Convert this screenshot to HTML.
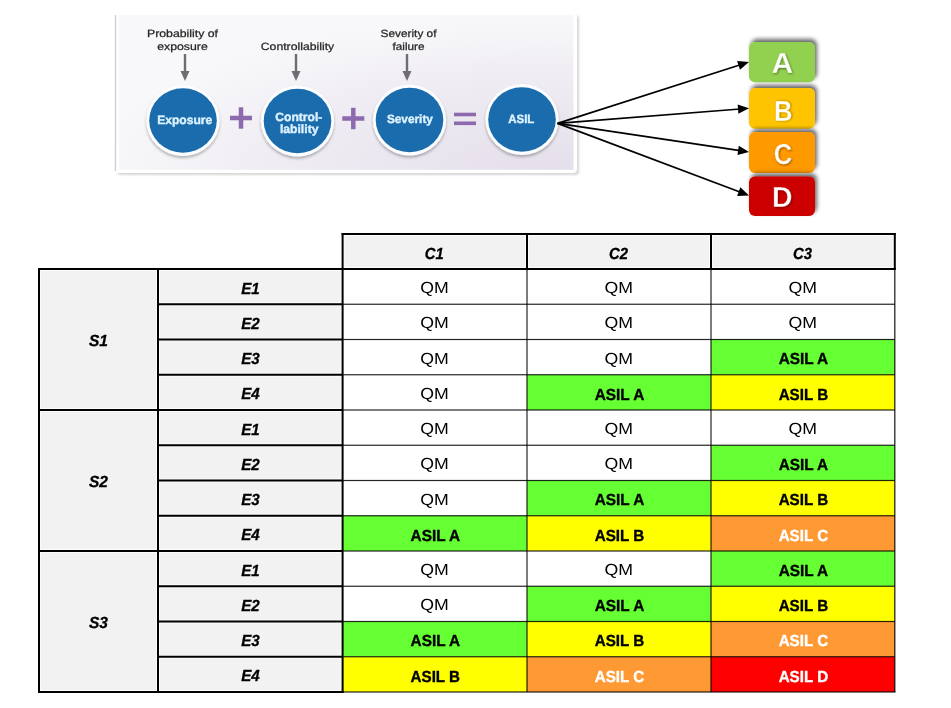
<!DOCTYPE html><html><head><meta charset="utf-8"><style>svg text{text-rendering:geometricPrecision}html,body{margin:0;padding:0;background:#fff;width:951px;height:708px;overflow:hidden;position:relative}</style></head><body><svg width="951" height="708" viewBox="0 0 951 708" style="position:absolute;left:0;top:0;will-change:transform">
<defs>
<radialGradient id="bg" cx="0.95" cy="1" r="1" fx="0.95" fy="1"><stop offset="0" stop-color="#e5dfeb"/><stop offset="0.55" stop-color="#eeebf2"/><stop offset="1" stop-color="#f8f8fa"/></radialGradient>
<filter id="sh" x="-10%" y="-10%" width="120%" height="130%"><feGaussianBlur in="SourceAlpha" stdDeviation="1.2"/><feOffset dx="0.5" dy="1.5"/><feComponentTransfer><feFuncA type="linear" slope="0.35"/></feComponentTransfer><feMerge><feMergeNode/><feMergeNode in="SourceGraphic"/></feMerge></filter>
<filter id="csh" x="-20%" y="-20%" width="140%" height="140%"><feGaussianBlur in="SourceAlpha" stdDeviation="1.5"/><feOffset dx="0" dy="1.5"/><feComponentTransfer><feFuncA type="linear" slope="0.3"/></feComponentTransfer><feMerge><feMergeNode/><feMergeNode in="SourceGraphic"/></feMerge></filter>
<filter id="bsh" x="-20%" y="-30%" width="140%" height="160%"><feGaussianBlur in="SourceAlpha" stdDeviation="2"/><feOffset dx="2" dy="-3"/><feComponentTransfer><feFuncA type="linear" slope="0.6"/></feComponentTransfer><feMerge><feMergeNode/><feMergeNode in="SourceGraphic"/></feMerge></filter>
<filter id="tsh"><feGaussianBlur in="SourceAlpha" stdDeviation="0.6"/><feOffset dx="0.8" dy="0.8"/><feComponentTransfer><feFuncA type="linear" slope="0.5"/></feComponentTransfer><feMerge><feMergeNode/><feMergeNode in="SourceGraphic"/></feMerge></filter>
<filter id="blur1" x="-5%" y="-10%" width="110%" height="120%"><feGaussianBlur stdDeviation="1"/></filter>
<marker id="ah" viewBox="0 0 10 10" refX="10" refY="5" markerWidth="7" markerHeight="7" orient="auto" markerUnits="userSpaceOnUse"><path d="M0,0 L10,5 L0,10 z" fill="#000"/></marker>
</defs>
<rect x="117" y="15" width="462" height="160" rx="4" fill="#000" opacity="0.16" filter="url(#blur1)"/>
<rect x="115" y="12" width="462" height="161" rx="4" fill="#ffffff"/>
<rect x="114.8" y="15" width="1.4" height="156" fill="#cfcfd2"/>
<rect x="119" y="15" width="454.5" height="154.8" fill="url(#bg)"/>
<text x="182.5" y="37" font-family="Liberation Sans, sans-serif" font-size="10.5" font-weight="normal" font-style="normal" fill="#262626" text-anchor="middle" textLength="71" lengthAdjust="spacingAndGlyphs" stroke="#262626" stroke-width="0.25">Probability of</text>
<text x="182.5" y="49.5" font-family="Liberation Sans, sans-serif" font-size="10.5" font-weight="normal" font-style="normal" fill="#262626" text-anchor="middle" textLength="50.5" lengthAdjust="spacingAndGlyphs" stroke="#262626" stroke-width="0.25">exposure</text>
<text x="297.5" y="50" font-family="Liberation Sans, sans-serif" font-size="10.5" font-weight="normal" font-style="normal" fill="#262626" text-anchor="middle" textLength="73.5" lengthAdjust="spacingAndGlyphs" stroke="#262626" stroke-width="0.25">Controllability</text>
<text x="408.5" y="37" font-family="Liberation Sans, sans-serif" font-size="10.5" font-weight="normal" font-style="normal" fill="#262626" text-anchor="middle" textLength="56" lengthAdjust="spacingAndGlyphs" stroke="#262626" stroke-width="0.25">Severity of</text>
<text x="408.5" y="50" font-family="Liberation Sans, sans-serif" font-size="10.5" font-weight="normal" font-style="normal" fill="#262626" text-anchor="middle" textLength="32" lengthAdjust="spacingAndGlyphs" stroke="#262626" stroke-width="0.25">failure</text>
<rect x="183.8" y="54" width="2.4" height="19" fill="#6e6e72"/>
<path d="M180.5,71 L189.5,71 L185,81 z" fill="#6e6e72"/>
<rect x="294.8" y="54" width="2.4" height="19" fill="#6e6e72"/>
<path d="M291.5,71 L300.5,71 L296,81 z" fill="#6e6e72"/>
<rect x="405.8" y="54" width="2.4" height="19" fill="#6e6e72"/>
<path d="M402.5,71 L411.5,71 L407,81 z" fill="#6e6e72"/>
<g filter="url(#csh)"><ellipse cx="183" cy="120.5" rx="36.6" ry="35.5" fill="#fbfdff"/></g>
<ellipse cx="183" cy="120.5" rx="33.8" ry="32.3" fill="#1a6cad"/>
<g filter="url(#csh)"><ellipse cx="297.5" cy="121" rx="36.6" ry="35.5" fill="#fbfdff"/></g>
<ellipse cx="297.5" cy="121" rx="33.8" ry="32.3" fill="#1a6cad"/>
<g filter="url(#csh)"><ellipse cx="409.5" cy="120" rx="36.6" ry="35.5" fill="#fbfdff"/></g>
<ellipse cx="409.5" cy="120" rx="33.8" ry="32.3" fill="#1a6cad"/>
<g filter="url(#csh)"><ellipse cx="522" cy="119.5" rx="36.6" ry="35.5" fill="#fbfdff"/></g>
<ellipse cx="522" cy="119.5" rx="33.8" ry="32.3" fill="#1a6cad"/>
<text x="184.7" y="123.6" font-family="Liberation Sans, sans-serif" font-size="12" font-weight="bold" font-style="normal" fill="#dcf1ff" text-anchor="middle" textLength="55" lengthAdjust="spacingAndGlyphs" stroke="#dcf1ff" stroke-width="0.4">Exposure</text>
<text x="298.8" y="120.6" font-family="Liberation Sans, sans-serif" font-size="12" font-weight="bold" font-style="normal" fill="#dcf1ff" text-anchor="middle" textLength="47" lengthAdjust="spacingAndGlyphs" stroke="#dcf1ff" stroke-width="0.4">Control-</text>
<text x="299.2" y="132.6" font-family="Liberation Sans, sans-serif" font-size="12" font-weight="bold" font-style="normal" fill="#dcf1ff" text-anchor="middle" textLength="38.5" lengthAdjust="spacingAndGlyphs" stroke="#dcf1ff" stroke-width="0.4">lability</text>
<text x="409.9" y="123.4" font-family="Liberation Sans, sans-serif" font-size="12" font-weight="bold" font-style="normal" fill="#dcf1ff" text-anchor="middle" textLength="46" lengthAdjust="spacingAndGlyphs" stroke="#dcf1ff" stroke-width="0.4">Severity</text>
<text x="521.3" y="122.9" font-family="Liberation Sans, sans-serif" font-size="12" font-weight="bold" font-style="normal" fill="#dcf1ff" text-anchor="middle" textLength="26" lengthAdjust="spacingAndGlyphs" stroke="#dcf1ff" stroke-width="0.4">ASIL</text>
<rect x="230" y="115.75" width="22" height="4.5" fill="#8d6aae"/>
<rect x="238.75" y="107.3" width="4.5" height="21.4" fill="#8d6aae"/>
<rect x="342.3" y="116.25" width="22" height="4.5" fill="#8d6aae"/>
<rect x="351.05" y="107.8" width="4.5" height="21.4" fill="#8d6aae"/>
<rect x="454" y="112.7" width="22" height="3.6" fill="#8d6aae"/>
<rect x="454" y="121.5" width="22" height="3.6" fill="#8d6aae"/>
<g filter="url(#bsh)"><rect x="749" y="42" width="66" height="40.3" rx="6" fill="#92d050"/></g>
<g filter="url(#bsh)"><rect x="749" y="88" width="66" height="40.69999999999999" rx="6" fill="#ffc406"/></g>
<g filter="url(#bsh)"><rect x="749" y="132" width="66" height="41" rx="6" fill="#ff9900"/></g>
<g filter="url(#bsh)"><rect x="749" y="176.5" width="66" height="39.5" rx="6" fill="#cc0000"/></g>
<g filter="url(#blur1)" opacity="0.45"><text x="783.0999999999999" y="74.1" font-family="Liberation Sans, sans-serif" font-size="29" font-weight="bold" font-style="normal" fill="#000" text-anchor="middle" textLength="21.7" lengthAdjust="spacingAndGlyphs" >A</text></g>
<text x="782.3" y="73.3" font-family="Liberation Sans, sans-serif" font-size="29" font-weight="bold" font-style="normal" fill="#fff" text-anchor="middle" textLength="21.7" lengthAdjust="spacingAndGlyphs" stroke="#92d050" stroke-width="0.4">A</text>
<g filter="url(#blur1)" opacity="0.45"><text x="784.0999999999999" y="121.39999999999999" font-family="Liberation Sans, sans-serif" font-size="29" font-weight="bold" font-style="normal" fill="#000" text-anchor="middle" textLength="18.5" lengthAdjust="spacingAndGlyphs" >B</text></g>
<text x="783.3" y="120.6" font-family="Liberation Sans, sans-serif" font-size="29" font-weight="bold" font-style="normal" fill="#fff" text-anchor="middle" textLength="18.5" lengthAdjust="spacingAndGlyphs" stroke="#ffc406" stroke-width="0.4">B</text>
<g filter="url(#blur1)" opacity="0.45"><text x="783.6999999999999" y="164.60000000000002" font-family="Liberation Sans, sans-serif" font-size="29" font-weight="bold" font-style="normal" fill="#000" text-anchor="middle" textLength="18.5" lengthAdjust="spacingAndGlyphs" >C</text></g>
<text x="782.9" y="163.8" font-family="Liberation Sans, sans-serif" font-size="29" font-weight="bold" font-style="normal" fill="#fff" text-anchor="middle" textLength="18.5" lengthAdjust="spacingAndGlyphs" stroke="#ff9900" stroke-width="0.4">C</text>
<g filter="url(#blur1)" opacity="0.45"><text x="783.0999999999999" y="207.8" font-family="Liberation Sans, sans-serif" font-size="29" font-weight="bold" font-style="normal" fill="#000" text-anchor="middle" textLength="20.5" lengthAdjust="spacingAndGlyphs" >D</text></g>
<text x="782.3" y="207" font-family="Liberation Sans, sans-serif" font-size="29" font-weight="bold" font-style="normal" fill="#fff" text-anchor="middle" textLength="20.5" lengthAdjust="spacingAndGlyphs" stroke="#cc0000" stroke-width="0.4">D</text>
<line x1="557.6" y1="123.4" x2="740.4301604351302" y2="64.74915438496868" stroke="#000" stroke-width="1.7"/>
<path d="M749,62 L739.9614211550872,69.83543824328261 L737.0900821307866,60.88471691997417 z" fill="#000"/>
<line x1="557.6" y1="123.4" x2="740.0278779614463" y2="109.00783198945747" stroke="#000" stroke-width="1.7"/>
<path d="M749,108.3 L738.4037186584844,113.85056949613717 L737.6644274694954,104.4796864780922 z" fill="#000"/>
<line x1="557.6" y1="123.4" x2="740.0988237728415" y2="150.66993918444757" stroke="#000" stroke-width="1.7"/>
<path d="M749,152 L737.4261972964622,155.02276214406317 L738.8153719260391,145.72597808458647 z" fill="#000"/>
<line x1="557.6" y1="123.4" x2="740.5777484626931" y2="192.32735456719" stroke="#000" stroke-width="1.7"/>
<path d="M749,195.5 L737.049311061713,196.02060916271478 L740.3629629582034,187.2240353348608 z" fill="#000"/>
<rect x="342.6" y="234" width="552.1999999999999" height="35" fill="#f2f2f2"/>
<rect x="39" y="269" width="303.6" height="423" fill="#f2f2f2"/>
<rect x="342.6" y="269.0" width="184.39999999999998" height="35.25" fill="#ffffff"/>
<rect x="527" y="269.0" width="184" height="35.25" fill="#ffffff"/>
<rect x="711" y="269.0" width="183.79999999999995" height="35.25" fill="#ffffff"/>
<rect x="342.6" y="304.25" width="184.39999999999998" height="35.25" fill="#ffffff"/>
<rect x="527" y="304.25" width="184" height="35.25" fill="#ffffff"/>
<rect x="711" y="304.25" width="183.79999999999995" height="35.25" fill="#ffffff"/>
<rect x="342.6" y="339.5" width="184.39999999999998" height="35.25" fill="#ffffff"/>
<rect x="527" y="339.5" width="184" height="35.25" fill="#ffffff"/>
<rect x="711" y="339.5" width="183.79999999999995" height="35.25" fill="#66ff33"/>
<rect x="342.6" y="374.75" width="184.39999999999998" height="35.25" fill="#ffffff"/>
<rect x="527" y="374.75" width="184" height="35.25" fill="#66ff33"/>
<rect x="711" y="374.75" width="183.79999999999995" height="35.25" fill="#ffff00"/>
<rect x="342.6" y="410.0" width="184.39999999999998" height="35.25" fill="#ffffff"/>
<rect x="527" y="410.0" width="184" height="35.25" fill="#ffffff"/>
<rect x="711" y="410.0" width="183.79999999999995" height="35.25" fill="#ffffff"/>
<rect x="342.6" y="445.25" width="184.39999999999998" height="35.25" fill="#ffffff"/>
<rect x="527" y="445.25" width="184" height="35.25" fill="#ffffff"/>
<rect x="711" y="445.25" width="183.79999999999995" height="35.25" fill="#66ff33"/>
<rect x="342.6" y="480.5" width="184.39999999999998" height="35.25" fill="#ffffff"/>
<rect x="527" y="480.5" width="184" height="35.25" fill="#66ff33"/>
<rect x="711" y="480.5" width="183.79999999999995" height="35.25" fill="#ffff00"/>
<rect x="342.6" y="515.75" width="184.39999999999998" height="35.25" fill="#66ff33"/>
<rect x="527" y="515.75" width="184" height="35.25" fill="#ffff00"/>
<rect x="711" y="515.75" width="183.79999999999995" height="35.25" fill="#ff9933"/>
<rect x="342.6" y="551.0" width="184.39999999999998" height="35.25" fill="#ffffff"/>
<rect x="527" y="551.0" width="184" height="35.25" fill="#ffffff"/>
<rect x="711" y="551.0" width="183.79999999999995" height="35.25" fill="#66ff33"/>
<rect x="342.6" y="586.25" width="184.39999999999998" height="35.25" fill="#ffffff"/>
<rect x="527" y="586.25" width="184" height="35.25" fill="#66ff33"/>
<rect x="711" y="586.25" width="183.79999999999995" height="35.25" fill="#ffff00"/>
<rect x="342.6" y="621.5" width="184.39999999999998" height="35.25" fill="#66ff33"/>
<rect x="527" y="621.5" width="184" height="35.25" fill="#ffff00"/>
<rect x="711" y="621.5" width="183.79999999999995" height="35.25" fill="#ff9933"/>
<rect x="342.6" y="656.75" width="184.39999999999998" height="35.25" fill="#ffff00"/>
<rect x="527" y="656.75" width="184" height="35.25" fill="#ff9933"/>
<rect x="711" y="656.75" width="183.79999999999995" height="35.25" fill="#ff0000"/>
<rect x="344.1" y="235.5" width="181.39999999999998" height="32" fill="none" stroke="#fff" stroke-opacity="0.75" stroke-width="1"/>
<rect x="528.5" y="235.5" width="181" height="32" fill="none" stroke="#fff" stroke-opacity="0.75" stroke-width="1"/>
<rect x="712.5" y="235.5" width="180.79999999999995" height="32" fill="none" stroke="#fff" stroke-opacity="0.75" stroke-width="1"/>
<rect x="40.5" y="270.5" width="116" height="138.0" fill="none" stroke="#fff" stroke-opacity="0.75" stroke-width="1"/>
<rect x="40.5" y="411.5" width="116" height="138.0" fill="none" stroke="#fff" stroke-opacity="0.75" stroke-width="1"/>
<rect x="40.5" y="552.5" width="116" height="138.0" fill="none" stroke="#fff" stroke-opacity="0.75" stroke-width="1"/>
<rect x="159.5" y="270.5" width="181.60000000000002" height="32.25" fill="none" stroke="#fff" stroke-opacity="0.75" stroke-width="1"/>
<rect x="159.5" y="305.75" width="181.60000000000002" height="32.25" fill="none" stroke="#fff" stroke-opacity="0.75" stroke-width="1"/>
<rect x="159.5" y="341.0" width="181.60000000000002" height="32.25" fill="none" stroke="#fff" stroke-opacity="0.75" stroke-width="1"/>
<rect x="159.5" y="376.25" width="181.60000000000002" height="32.25" fill="none" stroke="#fff" stroke-opacity="0.75" stroke-width="1"/>
<rect x="159.5" y="411.5" width="181.60000000000002" height="32.25" fill="none" stroke="#fff" stroke-opacity="0.75" stroke-width="1"/>
<rect x="159.5" y="446.75" width="181.60000000000002" height="32.25" fill="none" stroke="#fff" stroke-opacity="0.75" stroke-width="1"/>
<rect x="159.5" y="482.0" width="181.60000000000002" height="32.25" fill="none" stroke="#fff" stroke-opacity="0.75" stroke-width="1"/>
<rect x="159.5" y="517.25" width="181.60000000000002" height="32.25" fill="none" stroke="#fff" stroke-opacity="0.75" stroke-width="1"/>
<rect x="159.5" y="552.5" width="181.60000000000002" height="32.25" fill="none" stroke="#fff" stroke-opacity="0.75" stroke-width="1"/>
<rect x="159.5" y="587.75" width="181.60000000000002" height="32.25" fill="none" stroke="#fff" stroke-opacity="0.75" stroke-width="1"/>
<rect x="159.5" y="623.0" width="181.60000000000002" height="32.25" fill="none" stroke="#fff" stroke-opacity="0.75" stroke-width="1"/>
<rect x="159.5" y="658.25" width="181.60000000000002" height="32.25" fill="none" stroke="#fff" stroke-opacity="0.75" stroke-width="1"/>
<text x="434.3" y="258.5" font-family="Liberation Sans, sans-serif" font-size="16" font-weight="bold" font-style="italic" fill="#000" text-anchor="middle" textLength="19" lengthAdjust="spacingAndGlyphs" stroke="#000" stroke-width="0.3">C1</text>
<text x="618.5" y="258.5" font-family="Liberation Sans, sans-serif" font-size="16" font-weight="bold" font-style="italic" fill="#000" text-anchor="middle" textLength="19" lengthAdjust="spacingAndGlyphs" stroke="#000" stroke-width="0.3">C2</text>
<text x="802.4" y="258.5" font-family="Liberation Sans, sans-serif" font-size="16" font-weight="bold" font-style="italic" fill="#000" text-anchor="middle" textLength="19" lengthAdjust="spacingAndGlyphs" stroke="#000" stroke-width="0.3">C3</text>
<text x="250.5" y="293.525" font-family="Liberation Sans, sans-serif" font-size="16" font-weight="bold" font-style="italic" fill="#000" text-anchor="middle" textLength="18.5" lengthAdjust="spacingAndGlyphs" stroke="#000" stroke-width="0.3">E1</text>
<text x="434.6" y="293.225" font-family="Liberation Sans, sans-serif" font-size="16" font-weight="normal" font-style="normal" fill="#000" text-anchor="middle" textLength="28.5" lengthAdjust="spacingAndGlyphs" >QM</text>
<text x="618.8" y="293.225" font-family="Liberation Sans, sans-serif" font-size="16" font-weight="normal" font-style="normal" fill="#000" text-anchor="middle" textLength="28.5" lengthAdjust="spacingAndGlyphs" >QM</text>
<text x="802.6999999999999" y="293.225" font-family="Liberation Sans, sans-serif" font-size="16" font-weight="normal" font-style="normal" fill="#000" text-anchor="middle" textLength="28.5" lengthAdjust="spacingAndGlyphs" >QM</text>
<text x="250.5" y="328.775" font-family="Liberation Sans, sans-serif" font-size="16" font-weight="bold" font-style="italic" fill="#000" text-anchor="middle" textLength="18.5" lengthAdjust="spacingAndGlyphs" stroke="#000" stroke-width="0.3">E2</text>
<text x="434.6" y="328.475" font-family="Liberation Sans, sans-serif" font-size="16" font-weight="normal" font-style="normal" fill="#000" text-anchor="middle" textLength="28.5" lengthAdjust="spacingAndGlyphs" >QM</text>
<text x="618.8" y="328.475" font-family="Liberation Sans, sans-serif" font-size="16" font-weight="normal" font-style="normal" fill="#000" text-anchor="middle" textLength="28.5" lengthAdjust="spacingAndGlyphs" >QM</text>
<text x="802.6999999999999" y="328.475" font-family="Liberation Sans, sans-serif" font-size="16" font-weight="normal" font-style="normal" fill="#000" text-anchor="middle" textLength="28.5" lengthAdjust="spacingAndGlyphs" >QM</text>
<text x="250.5" y="364.025" font-family="Liberation Sans, sans-serif" font-size="16" font-weight="bold" font-style="italic" fill="#000" text-anchor="middle" textLength="18.5" lengthAdjust="spacingAndGlyphs" stroke="#000" stroke-width="0.3">E3</text>
<text x="434.6" y="363.725" font-family="Liberation Sans, sans-serif" font-size="16" font-weight="normal" font-style="normal" fill="#000" text-anchor="middle" textLength="28.5" lengthAdjust="spacingAndGlyphs" >QM</text>
<text x="618.8" y="363.725" font-family="Liberation Sans, sans-serif" font-size="16" font-weight="normal" font-style="normal" fill="#000" text-anchor="middle" textLength="28.5" lengthAdjust="spacingAndGlyphs" >QM</text>
<text x="803.4" y="364.425" font-family="Liberation Sans, sans-serif" font-size="16" font-weight="bold" font-style="normal" fill="#000" text-anchor="middle" textLength="49.5" lengthAdjust="spacingAndGlyphs" stroke="#000" stroke-width="0.35">ASIL A</text>
<text x="250.5" y="399.275" font-family="Liberation Sans, sans-serif" font-size="16" font-weight="bold" font-style="italic" fill="#000" text-anchor="middle" textLength="18.5" lengthAdjust="spacingAndGlyphs" stroke="#000" stroke-width="0.3">E4</text>
<text x="434.6" y="398.975" font-family="Liberation Sans, sans-serif" font-size="16" font-weight="normal" font-style="normal" fill="#000" text-anchor="middle" textLength="28.5" lengthAdjust="spacingAndGlyphs" >QM</text>
<text x="619.5" y="399.675" font-family="Liberation Sans, sans-serif" font-size="16" font-weight="bold" font-style="normal" fill="#000" text-anchor="middle" textLength="49.5" lengthAdjust="spacingAndGlyphs" stroke="#000" stroke-width="0.35">ASIL A</text>
<text x="803.4" y="399.675" font-family="Liberation Sans, sans-serif" font-size="16" font-weight="bold" font-style="normal" fill="#000" text-anchor="middle" textLength="49.5" lengthAdjust="spacingAndGlyphs" stroke="#000" stroke-width="0.35">ASIL B</text>
<text x="250.5" y="434.525" font-family="Liberation Sans, sans-serif" font-size="16" font-weight="bold" font-style="italic" fill="#000" text-anchor="middle" textLength="18.5" lengthAdjust="spacingAndGlyphs" stroke="#000" stroke-width="0.3">E1</text>
<text x="434.6" y="434.225" font-family="Liberation Sans, sans-serif" font-size="16" font-weight="normal" font-style="normal" fill="#000" text-anchor="middle" textLength="28.5" lengthAdjust="spacingAndGlyphs" >QM</text>
<text x="618.8" y="434.225" font-family="Liberation Sans, sans-serif" font-size="16" font-weight="normal" font-style="normal" fill="#000" text-anchor="middle" textLength="28.5" lengthAdjust="spacingAndGlyphs" >QM</text>
<text x="802.6999999999999" y="434.225" font-family="Liberation Sans, sans-serif" font-size="16" font-weight="normal" font-style="normal" fill="#000" text-anchor="middle" textLength="28.5" lengthAdjust="spacingAndGlyphs" >QM</text>
<text x="250.5" y="469.775" font-family="Liberation Sans, sans-serif" font-size="16" font-weight="bold" font-style="italic" fill="#000" text-anchor="middle" textLength="18.5" lengthAdjust="spacingAndGlyphs" stroke="#000" stroke-width="0.3">E2</text>
<text x="434.6" y="469.475" font-family="Liberation Sans, sans-serif" font-size="16" font-weight="normal" font-style="normal" fill="#000" text-anchor="middle" textLength="28.5" lengthAdjust="spacingAndGlyphs" >QM</text>
<text x="618.8" y="469.475" font-family="Liberation Sans, sans-serif" font-size="16" font-weight="normal" font-style="normal" fill="#000" text-anchor="middle" textLength="28.5" lengthAdjust="spacingAndGlyphs" >QM</text>
<text x="803.4" y="470.175" font-family="Liberation Sans, sans-serif" font-size="16" font-weight="bold" font-style="normal" fill="#000" text-anchor="middle" textLength="49.5" lengthAdjust="spacingAndGlyphs" stroke="#000" stroke-width="0.35">ASIL A</text>
<text x="250.5" y="505.025" font-family="Liberation Sans, sans-serif" font-size="16" font-weight="bold" font-style="italic" fill="#000" text-anchor="middle" textLength="18.5" lengthAdjust="spacingAndGlyphs" stroke="#000" stroke-width="0.3">E3</text>
<text x="434.6" y="504.725" font-family="Liberation Sans, sans-serif" font-size="16" font-weight="normal" font-style="normal" fill="#000" text-anchor="middle" textLength="28.5" lengthAdjust="spacingAndGlyphs" >QM</text>
<text x="619.5" y="505.425" font-family="Liberation Sans, sans-serif" font-size="16" font-weight="bold" font-style="normal" fill="#000" text-anchor="middle" textLength="49.5" lengthAdjust="spacingAndGlyphs" stroke="#000" stroke-width="0.35">ASIL A</text>
<text x="803.4" y="505.425" font-family="Liberation Sans, sans-serif" font-size="16" font-weight="bold" font-style="normal" fill="#000" text-anchor="middle" textLength="49.5" lengthAdjust="spacingAndGlyphs" stroke="#000" stroke-width="0.35">ASIL B</text>
<text x="250.5" y="540.275" font-family="Liberation Sans, sans-serif" font-size="16" font-weight="bold" font-style="italic" fill="#000" text-anchor="middle" textLength="18.5" lengthAdjust="spacingAndGlyphs" stroke="#000" stroke-width="0.3">E4</text>
<text x="435.3" y="540.675" font-family="Liberation Sans, sans-serif" font-size="16" font-weight="bold" font-style="normal" fill="#000" text-anchor="middle" textLength="49.5" lengthAdjust="spacingAndGlyphs" stroke="#000" stroke-width="0.35">ASIL A</text>
<text x="619.5" y="540.675" font-family="Liberation Sans, sans-serif" font-size="16" font-weight="bold" font-style="normal" fill="#000" text-anchor="middle" textLength="49.5" lengthAdjust="spacingAndGlyphs" stroke="#000" stroke-width="0.35">ASIL B</text>
<text x="803.4" y="540.675" font-family="Liberation Sans, sans-serif" font-size="16" font-weight="bold" font-style="normal" fill="#fff" text-anchor="middle" textLength="49.5" lengthAdjust="spacingAndGlyphs" stroke="#fff" stroke-width="0.35">ASIL C</text>
<text x="250.5" y="575.525" font-family="Liberation Sans, sans-serif" font-size="16" font-weight="bold" font-style="italic" fill="#000" text-anchor="middle" textLength="18.5" lengthAdjust="spacingAndGlyphs" stroke="#000" stroke-width="0.3">E1</text>
<text x="434.6" y="575.225" font-family="Liberation Sans, sans-serif" font-size="16" font-weight="normal" font-style="normal" fill="#000" text-anchor="middle" textLength="28.5" lengthAdjust="spacingAndGlyphs" >QM</text>
<text x="618.8" y="575.225" font-family="Liberation Sans, sans-serif" font-size="16" font-weight="normal" font-style="normal" fill="#000" text-anchor="middle" textLength="28.5" lengthAdjust="spacingAndGlyphs" >QM</text>
<text x="803.4" y="575.925" font-family="Liberation Sans, sans-serif" font-size="16" font-weight="bold" font-style="normal" fill="#000" text-anchor="middle" textLength="49.5" lengthAdjust="spacingAndGlyphs" stroke="#000" stroke-width="0.35">ASIL A</text>
<text x="250.5" y="610.775" font-family="Liberation Sans, sans-serif" font-size="16" font-weight="bold" font-style="italic" fill="#000" text-anchor="middle" textLength="18.5" lengthAdjust="spacingAndGlyphs" stroke="#000" stroke-width="0.3">E2</text>
<text x="434.6" y="610.475" font-family="Liberation Sans, sans-serif" font-size="16" font-weight="normal" font-style="normal" fill="#000" text-anchor="middle" textLength="28.5" lengthAdjust="spacingAndGlyphs" >QM</text>
<text x="619.5" y="611.175" font-family="Liberation Sans, sans-serif" font-size="16" font-weight="bold" font-style="normal" fill="#000" text-anchor="middle" textLength="49.5" lengthAdjust="spacingAndGlyphs" stroke="#000" stroke-width="0.35">ASIL A</text>
<text x="803.4" y="611.175" font-family="Liberation Sans, sans-serif" font-size="16" font-weight="bold" font-style="normal" fill="#000" text-anchor="middle" textLength="49.5" lengthAdjust="spacingAndGlyphs" stroke="#000" stroke-width="0.35">ASIL B</text>
<text x="250.5" y="646.025" font-family="Liberation Sans, sans-serif" font-size="16" font-weight="bold" font-style="italic" fill="#000" text-anchor="middle" textLength="18.5" lengthAdjust="spacingAndGlyphs" stroke="#000" stroke-width="0.3">E3</text>
<text x="435.3" y="646.425" font-family="Liberation Sans, sans-serif" font-size="16" font-weight="bold" font-style="normal" fill="#000" text-anchor="middle" textLength="49.5" lengthAdjust="spacingAndGlyphs" stroke="#000" stroke-width="0.35">ASIL A</text>
<text x="619.5" y="646.425" font-family="Liberation Sans, sans-serif" font-size="16" font-weight="bold" font-style="normal" fill="#000" text-anchor="middle" textLength="49.5" lengthAdjust="spacingAndGlyphs" stroke="#000" stroke-width="0.35">ASIL B</text>
<text x="803.4" y="646.425" font-family="Liberation Sans, sans-serif" font-size="16" font-weight="bold" font-style="normal" fill="#fff" text-anchor="middle" textLength="49.5" lengthAdjust="spacingAndGlyphs" stroke="#fff" stroke-width="0.35">ASIL C</text>
<text x="250.5" y="681.275" font-family="Liberation Sans, sans-serif" font-size="16" font-weight="bold" font-style="italic" fill="#000" text-anchor="middle" textLength="18.5" lengthAdjust="spacingAndGlyphs" stroke="#000" stroke-width="0.3">E4</text>
<text x="435.3" y="681.675" font-family="Liberation Sans, sans-serif" font-size="16" font-weight="bold" font-style="normal" fill="#000" text-anchor="middle" textLength="49.5" lengthAdjust="spacingAndGlyphs" stroke="#000" stroke-width="0.35">ASIL B</text>
<text x="619.5" y="681.675" font-family="Liberation Sans, sans-serif" font-size="16" font-weight="bold" font-style="normal" fill="#fff" text-anchor="middle" textLength="49.5" lengthAdjust="spacingAndGlyphs" stroke="#fff" stroke-width="0.35">ASIL C</text>
<text x="803.4" y="681.675" font-family="Liberation Sans, sans-serif" font-size="16" font-weight="bold" font-style="normal" fill="#fff" text-anchor="middle" textLength="49.5" lengthAdjust="spacingAndGlyphs" stroke="#fff" stroke-width="0.35">ASIL D</text>
<text x="98.5" y="346.0" font-family="Liberation Sans, sans-serif" font-size="16" font-weight="bold" font-style="italic" fill="#000" text-anchor="middle" textLength="19" lengthAdjust="spacingAndGlyphs" stroke="#000" stroke-width="0.3">S1</text>
<text x="98.5" y="487.0" font-family="Liberation Sans, sans-serif" font-size="16" font-weight="bold" font-style="italic" fill="#000" text-anchor="middle" textLength="19" lengthAdjust="spacingAndGlyphs" stroke="#000" stroke-width="0.3">S2</text>
<text x="98.5" y="628.0" font-family="Liberation Sans, sans-serif" font-size="16" font-weight="bold" font-style="italic" fill="#000" text-anchor="middle" textLength="19" lengthAdjust="spacingAndGlyphs" stroke="#000" stroke-width="0.3">S3</text>
<rect x="341.6" y="233.0" width="554.1999999999999" height="2" fill="#000"/>
<rect x="341.6" y="233" width="2" height="36" fill="#000"/>
<rect x="526.0" y="233" width="2" height="36" fill="#000"/>
<rect x="710.0" y="233" width="2" height="36" fill="#000"/>
<rect x="893.8" y="233" width="2" height="36" fill="#000"/>
<rect x="38" y="268.0" width="857.8" height="2" fill="#000"/>
<rect x="157" y="303.25" width="185.60000000000002" height="2" fill="#000"/>
<rect x="342.6" y="303.65" width="552.1999999999999" height="1.2" fill="rgba(0,0,0,0.85)"/>
<rect x="157" y="338.5" width="185.60000000000002" height="2" fill="#000"/>
<rect x="342.6" y="338.9" width="552.1999999999999" height="1.2" fill="rgba(0,0,0,0.85)"/>
<rect x="157" y="373.75" width="185.60000000000002" height="2" fill="#000"/>
<rect x="342.6" y="374.15" width="552.1999999999999" height="1.2" fill="rgba(0,0,0,0.85)"/>
<rect x="157" y="409.0" width="185.60000000000002" height="2" fill="#000"/>
<rect x="38" y="409.0" width="120" height="2" fill="#000"/>
<rect x="342.6" y="409.4" width="552.1999999999999" height="1.2" fill="rgba(0,0,0,0.85)"/>
<rect x="157" y="444.25" width="185.60000000000002" height="2" fill="#000"/>
<rect x="342.6" y="444.65" width="552.1999999999999" height="1.2" fill="rgba(0,0,0,0.85)"/>
<rect x="157" y="479.5" width="185.60000000000002" height="2" fill="#000"/>
<rect x="342.6" y="479.9" width="552.1999999999999" height="1.2" fill="rgba(0,0,0,0.85)"/>
<rect x="157" y="514.75" width="185.60000000000002" height="2" fill="#000"/>
<rect x="342.6" y="515.15" width="552.1999999999999" height="1.2" fill="rgba(0,0,0,0.85)"/>
<rect x="157" y="550.0" width="185.60000000000002" height="2" fill="#000"/>
<rect x="38" y="550.0" width="120" height="2" fill="#000"/>
<rect x="342.6" y="550.4" width="552.1999999999999" height="1.2" fill="rgba(0,0,0,0.85)"/>
<rect x="157" y="585.25" width="185.60000000000002" height="2" fill="#000"/>
<rect x="342.6" y="585.65" width="552.1999999999999" height="1.2" fill="rgba(0,0,0,0.85)"/>
<rect x="157" y="620.5" width="185.60000000000002" height="2" fill="#000"/>
<rect x="342.6" y="620.9" width="552.1999999999999" height="1.2" fill="rgba(0,0,0,0.85)"/>
<rect x="157" y="655.75" width="185.60000000000002" height="2" fill="#000"/>
<rect x="342.6" y="656.15" width="552.1999999999999" height="1.2" fill="rgba(0,0,0,0.85)"/>
<rect x="38" y="691.0" width="305.6" height="2" fill="#000"/>
<rect x="342.6" y="691.25" width="552.9" height="1.5" fill="rgba(0,0,0,0.7)"/>
<rect x="38.0" y="268" width="2" height="425" fill="#000"/>
<rect x="157.0" y="268" width="2" height="425" fill="#000"/>
<rect x="341.6" y="268" width="2" height="425" fill="#000"/>
<rect x="526.4" y="269" width="1.2" height="423" fill="rgba(0,0,0,0.85)"/>
<rect x="710.4" y="269" width="1.2" height="423" fill="rgba(0,0,0,0.85)"/>
<rect x="894.15" y="269" width="1.3" height="423" fill="rgba(0,0,0,0.85)"/>
</svg></body></html>
